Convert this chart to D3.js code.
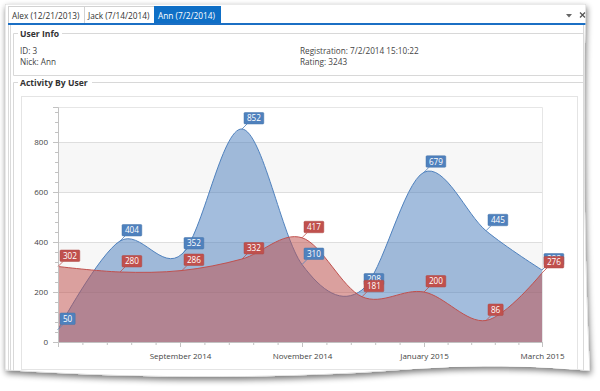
<!DOCTYPE html>
<html>
<head>
<meta charset="utf-8">
<script src="https://d3js.org/d3.v7.min.js"></script>
<style>
  body { margin: 0; background: #fff; }
  text { font-family: "Segoe UI", "Open Sans", sans-serif; }
</style>
</head>
<body>
<svg id="chart" width="600" height="391"></svg>
<script>
// chart data
var dates = ["2014-07-02", "2014-08-02", "2014-09-02", "2014-10-02", "2014-11-01",
             "2014-12-01", "2015-01-01", "2015-02-01", "2015-03-01"];
var blueValues = [50, 404, 352, 852, 310, 208, 679, 445, 288];
var redValues = [302, 280, 286, 332, 417, 181, 200, 86, 276];
var majorTicks = ["2014-09-01", "2014-11-01", "2015-01-01", "2015-03-01"];
var majorLabels = ["September 2014", "November 2014", "January 2015", "March 2015"];
var yTicks = [0, 200, 400, 600, 800];
var tabs = ["Alex (12/21/2013)", "Jack (7/14/2014)", "Ann (7/2/2014)"];
var infoLeft = ["ID: 3", "Nick: Ann"];
var infoRight = ["Registration: 7/2/2014 15:10:22", "Rating: 3243"];

var parse = d3.timeParse("%Y-%m-%d");
var blueColor = "#4f81bd", redColor = "#c0504d";

var svg = d3.select("#chart");
var defs = svg.append("defs");

var shadow = defs.append("filter").attr("id", "shadow")
  .attr("x", "-5%").attr("y", "-5%").attr("width", "115%").attr("height", "120%");
shadow.append("feGaussianBlur").attr("in", "SourceAlpha").attr("stdDeviation", 3);
shadow.append("feOffset").attr("dx", 1).attr("dy", 3).attr("result", "blur");
shadow.append("feComponentTransfer").append("feFuncA").attr("type", "linear").attr("slope", 0.55);
var merge = shadow.append("feMerge");
merge.append("feMergeNode");
merge.append("feMergeNode").attr("in", "SourceGraphic");

// the curled page
var pagePath = "M5,4 L586,4 C583,100 584,250 590,371 C540,366 480,364 400,370 C300,378 150,380 5,370 Z";
svg.append("path").attr("d", pagePath).attr("fill", "#fff").attr("filter", "url(#shadow)");
defs.append("clipPath").attr("id", "pageclip").append("path").attr("d", pagePath);

var page = svg.append("g").attr("clip-path", "url(#pageclip)");
page.append("path").attr("d", pagePath).attr("fill", "none").attr("stroke", "#d6d6d6");

// stacked borders on the left and right
[8, 10].forEach(function(x) {
  page.append("line").attr("x1", x + 0.5).attr("x2", x + 0.5).attr("y1", 24).attr("y2", 391)
    .attr("stroke", "#dadada");
});
page.append("line").attr("x1", 583.5).attr("x2", 583.5).attr("y1", 24).attr("y2", 391)
  .attr("stroke", "#dadada");

// tabs
var tabX = [8, 84, 154, 220];
tabs.forEach(function(t, i) {
  var sel = i === 2;
  page.append("rect").attr("x", tabX[i] + 0.5).attr("y", 6.5)
    .attr("width", tabX[i + 1] - tabX[i]).attr("height", 17)
    .attr("fill", sel ? "#0f6fc6" : "#fff").attr("stroke", sel ? "#0f6fc6" : "#d2d2d2");
  page.append("text").attr("x", tabX[i] + 4).attr("y", 18.5)
    .attr("font-size", "8.3px").attr("fill", sel ? "#fff" : "#333").text(t);
});
page.append("rect").attr("x", 8).attr("y", 23).attr("width", 578).attr("height", 2).attr("fill", "#1b6fc4");
page.append("path").attr("d", "M566,14 L572,14 L569,17.5 Z").attr("fill", "#666");
page.append("path").attr("d", "M580,12.5 L585,17.5 M585,12.5 L580,17.5").attr("stroke", "#555").attr("stroke-width", 1.3);

// group boxes
function groupBox(y0, y1, title, titleW) {
  page.append("path")
    .attr("d", "M" + (18) + "," + (y0 + 0.5) + " L13.5," + (y0 + 0.5) + " L13.5," + (y1 + 0.5) +
      " L583.5," + (y1 + 0.5) + " M" + (20 + titleW) + "," + (y0 + 0.5) + " L583.5," + (y0 + 0.5))
    .attr("fill", "none").attr("stroke", "#d8d8d8");
  page.append("text").attr("x", 20).attr("y", y0 + 4).attr("font-size", "8.6px")
    .attr("font-weight", "bold").attr("fill", "#333").text(title);
}
groupBox(33, 75, "User Info", 42);
groupBox(82, 400, "Activity By User", 72);

infoLeft.forEach(function(t, i) {
  page.append("text").attr("x", 20).attr("y", 54 + i * 11).attr("font-size", "8.2px").attr("fill", "#444").text(t);
});
infoRight.forEach(function(t, i) {
  page.append("text").attr("x", 300).attr("y", 54 + i * 11).attr("font-size", "8.2px").attr("fill", "#444").text(t);
});

// chart frame
page.append("rect").attr("x", 21.5).attr("y", 96.5).attr("width", 556).attr("height", 273)
  .attr("fill", "#fff").attr("stroke", "#e4e4e4");

// plot
var pLeft = 58, pRight = 542, pTop = 107, pBottom = 342;
var x = d3.scaleTime().domain([parse(dates[0]), parse(dates[dates.length - 1])]).range([pLeft, pRight]);
var y = d3.scaleLinear().domain([0, 940]).range([pBottom, pTop]);

var plot = page.append("g");
// interlaced bands
[[200, 400], [600, 800]].forEach(function(b) {
  plot.append("rect").attr("x", pLeft).attr("y", y(b[1])).attr("width", pRight - pLeft)
    .attr("height", y(b[0]) - y(b[1])).attr("fill", "#f7f7f7");
});
yTicks.slice(1).forEach(function(v) {
  plot.append("line").attr("x1", pLeft).attr("x2", pRight).attr("y1", y(v) + 0.5).attr("y2", y(v) + 0.5)
    .attr("stroke", "#dedede");
});
plot.append("path").attr("d", "M" + pLeft + "," + (pTop + 0.5) + " L" + (pRight + 0.5) + "," + (pTop + 0.5) +
  " L" + (pRight + 0.5) + "," + pBottom).attr("fill", "none").attr("stroke", "#e6e6e6");

var pts = function(vals) {
  return vals.map(function(v, i) { return { d: parse(dates[i]), v: v }; });
};
var curve = d3.curveCardinal.tension(0);
var area = d3.area().curve(curve).x(function(d) { return x(d.d); })
  .y0(pBottom).y1(function(d) { return y(d.v); });
var line = d3.line().curve(curve).x(function(d) { return x(d.d); }).y(function(d) { return y(d.v); });

[[blueValues, blueColor], [redValues, redColor]].forEach(function(s) {
  plot.append("path").datum(pts(s[0])).attr("d", area).attr("fill", s[1]).attr("fill-opacity", 0.52);
  plot.append("path").datum(pts(s[0])).attr("d", line).attr("fill", "none")
    .attr("stroke", s[1]).attr("stroke-width", 1);
});

// axes
var yAxis = plot.append("g").attr("transform", "translate(" + pLeft + ",0)")
  .call(d3.axisLeft(y).tickValues(yTicks).tickSize(5).tickPadding(5));
var xMajor = majorTicks.map(parse);
var xAxis = plot.append("g").attr("transform", "translate(0," + pBottom + ")")
  .call(d3.axisBottom(x).tickValues(xMajor).tickSize(5).tickPadding(6)
    .tickFormat(function(d, i) { return majorLabels[i]; }));
[yAxis, xAxis].forEach(function(a) {
  a.select(".domain").attr("stroke", "#c2c2c2");
  a.selectAll(".tick line").attr("stroke", "#c2c2c2");
  a.selectAll(".tick text").attr("fill", "#444").attr("font-size", "8px")
    .attr("font-family", "'Segoe UI', 'Open Sans', sans-serif");
});

// minor ticks: four between each pair of majors
var yMinor = d3.range(0, 940, 40).filter(function(v) { return v % 200 !== 0; });
yMinor.forEach(function(v) {
  plot.append("line").attr("x1", pLeft - 3).attr("x2", pLeft).attr("y1", y(v) + 0.5).attr("y2", y(v) + 0.5)
    .attr("stroke", "#c2c2c2");
});
var xMinor = [];
var spans = [[parse(dates[0]), xMajor[0]]];
for (var i = 0; i < xMajor.length - 1; i++) spans.push([xMajor[i], xMajor[i + 1]]);
spans.forEach(function(s) {
  for (var k = 1; k < 5; k++) xMinor.push(new Date(+s[0] + (s[1] - s[0]) * k / 5));
});
xMinor.forEach(function(d) {
  plot.append("line").attr("x1", x(d) + 0.5).attr("x2", x(d) + 0.5).attr("y1", pBottom).attr("y2", pBottom + 3)
    .attr("stroke", "#c2c2c2");
});

// point labels
function labels(vals, color) {
  pts(vals).forEach(function(p) {
    var px = x(p.d), py = y(p.v);
    var txt = String(p.v);
    var w = txt.length * 4.6 + 6, h = 11.5;
    var lx = px + 2, ly = py - 5 - h;
    plot.append("line").attr("x1", px).attr("y1", py).attr("x2", px + 5).attr("y2", py - 5)
      .attr("stroke", color).attr("stroke-width", 0.8);
    plot.append("rect").attr("x", lx).attr("y", ly).attr("width", w).attr("height", h)
      .attr("rx", 1).attr("fill", color).attr("stroke", d3.color(color).darker(0.3)).attr("stroke-width", 0.5);
    plot.append("text").attr("x", lx + w / 2).attr("y", ly + h / 2 + 3).attr("text-anchor", "middle")
      .attr("font-size", "8.2px").attr("fill", "#fff").text(txt);
  });
}
labels(blueValues, blueColor);
labels(redValues, redColor);
</script>
</body>
</html>
